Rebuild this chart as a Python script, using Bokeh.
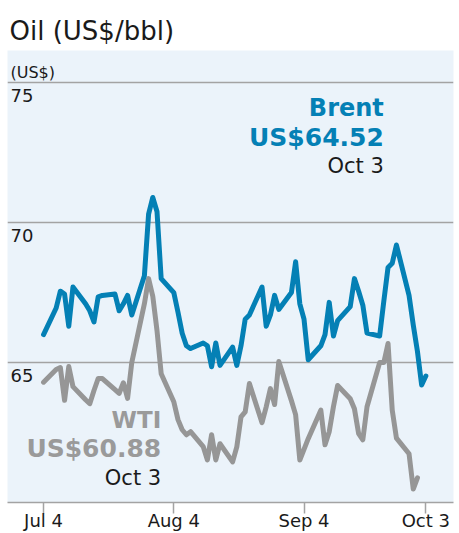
from datetime import datetime
import pandas as pd
from bokeh.plotting import figure
from bokeh.models import ColumnDataSource, FixedTicker, Range1d
from bokeh.core.properties import value
from bokeh.embed import file_html
from bokeh.resources import INLINE

FONT = "DejaVu Sans"

# ---------------- data ----------------
trade_days = [
    "2025-07-04",
    "2025-07-07", "2025-07-08", "2025-07-09", "2025-07-10", "2025-07-11",
    "2025-07-14", "2025-07-15", "2025-07-16", "2025-07-17", "2025-07-18",
    "2025-07-21", "2025-07-22", "2025-07-23", "2025-07-24", "2025-07-25",
    "2025-07-28", "2025-07-29", "2025-07-30", "2025-07-31", "2025-08-01",
    "2025-08-04", "2025-08-05", "2025-08-06", "2025-08-07", "2025-08-08",
    "2025-08-11", "2025-08-12", "2025-08-13", "2025-08-14", "2025-08-15",
    "2025-08-18", "2025-08-19", "2025-08-20", "2025-08-21", "2025-08-22",
    "2025-08-25", "2025-08-26", "2025-08-27", "2025-08-28", "2025-08-29",
    "2025-09-01", "2025-09-02", "2025-09-03", "2025-09-04", "2025-09-05",
    "2025-09-08", "2025-09-09", "2025-09-10", "2025-09-11", "2025-09-12",
    "2025-09-15", "2025-09-16", "2025-09-17", "2025-09-18", "2025-09-19",
    "2025-09-22", "2025-09-23", "2025-09-24", "2025-09-25", "2025-09-26",
    "2025-09-29", "2025-09-30", "2025-10-01", "2025-10-02", "2025-10-03",
]

brent = [
    66.0,
    66.95, 67.55, 67.45, 66.3, 67.7,
    67.1, 66.85, 66.45, 67.35, 67.4,
    67.45, 66.85, 67.1, 67.4, 66.7,
    68.1, 70.3, 70.9, 70.4, 68.0,
    67.5, 66.8, 66.05, 65.6, 65.5,
    65.7, 65.6, 64.85, 65.7, 64.9,
    65.55, 64.9, 65.6, 66.55, 66.7,
    67.7, 66.3, 66.7, 67.4, 66.9,
    67.5, 68.6, 67.1, 66.55, 65.1,
    65.6, 66.0, 67.15, 65.95, 66.5,
    67.0, 68.0, 67.55, 67.05, 66.05,
    65.95, 67.2, 68.4, 68.55, 69.2,
    67.4, 66.35, 65.4, 64.2, 64.52,
]

wti = [
    64.3,
    64.75, 64.82, 63.65, 64.86, 64.14,
    63.67, 63.53, 64.0, 64.43, 64.43,
    64.03, 63.9, 64.28, 63.72, 65.0,
    67.1, 68.0, 67.37, 66.15, 64.6,
    63.6, 62.96, 62.6, 62.42, 62.53,
    62.0, 61.52, 62.42, 61.52, 62.1,
    61.45, 61.99, 63.06, 63.24, 64.25,
    62.85, 63.42, 64.07, 63.5, 65.04,
    63.64, 63.14, 61.52, 61.9, 62.28,
    63.3, 62.06, 62.53, 63.42, 64.18,
    63.71, 63.35, 62.46, 62.24, 63.42,
    65.0, 65.0, 65.68, 63.3, 62.3,
    61.74, 60.48, 60.88,
]
wti_days = trade_days[:len(wti)]

y_ticks = [65, 70, 75]
y_tick_labels = ["65", "70", "75"]
x_tick_dates = ["2025-07-04", "2025-08-04", "2025-09-04", "2025-10-03"]
x_tick_labels = ["Jul 4", "Aug 4", "Sep 4", "Oct 3"]

title_text = "Oil (US$/bbl)"
unit_text = "(US$)"
brent_lines = ["Brent", "US$64.52", "Oct 3"]
wti_lines = ["WTI", "US$60.88", "Oct 3"]

# ---------------- style ----------------
BLUE = "#0480b5"
GREY = "#969696"
GREY_TXT = "#9a9a9a"
GRID = "#a3a3a3"
BG = "#ebf3fa"
INK = "#1a1a1a"

brent_src = ColumnDataSource(dict(date=pd.to_datetime(trade_days), v=brent))
wti_src = ColumnDataSource(dict(date=pd.to_datetime(wti_days), v=wti))

x_start = datetime(2025, 6, 25, 10)
x_end = datetime(2025, 10, 9, 14)

p = figure(width=459, height=533, x_axis_type="datetime",
           x_range=Range1d(x_start, x_end), y_range=Range1d(60, 76.15),
           output_backend="svg", toolbar_location=None,
           min_border_left=7, min_border_right=6, min_border_top=50,
           min_border_bottom=20)
p.background_fill_color = BG
p.border_fill_color = "white"
p.outline_line_color = None

p.title.text = title_text
p.title.text_font = FONT
p.title.text_font_size = "26px"
p.title.text_font_style = "normal"
p.title.text_color = INK
p.title.offset = 2
p.title.standoff = 9

# grid
p.xgrid.visible = False
p.ygrid.ticker = FixedTicker(ticks=y_ticks)
p.ygrid.grid_line_color = GRID
p.ygrid.grid_line_width = 1.5
p.yaxis.visible = False

# x axis
tick_ms = [float(pd.Timestamp(d).timestamp() * 1000) for d in x_tick_dates]
p.xaxis.ticker = FixedTicker(ticks=tick_ms)
p.xaxis.major_label_overrides = {t: lab for t, lab in zip(tick_ms, x_tick_labels)}
p.xaxis.axis_line_color = GRID
p.xaxis.axis_line_width = 1.5
p.xaxis.major_tick_line_color = GRID
p.xaxis.major_tick_line_width = 1.5
p.xaxis.major_tick_out = 11
p.xaxis.major_tick_in = 0
p.xaxis.minor_tick_line_color = None
p.xaxis.major_label_standoff = -4
p.xaxis.major_label_text_font = FONT
p.xaxis.major_label_text_font_size = "18px"
p.xaxis.major_label_text_color = INK

# lines
p.line("date", "v", source=wti_src, line_color=GREY, line_width=5,
       line_join="round", line_cap="round")
p.line("date", "v", source=brent_src, line_color=BLUE, line_width=5,
       line_join="round", line_cap="round")

# y tick labels inside the frame
p.text(x=[x_start] * len(y_ticks), y=y_ticks, text=y_tick_labels,
       x_offset=3, y_offset=13, text_align="left", text_baseline="alphabetic",
       text_font=value(FONT), text_font_size="18px", text_color=INK)
p.text(x=[x_start], y=[y_ticks[-1]], text=[unit_text],
       x_offset=3, y_offset=-10, text_align="left", text_baseline="alphabetic",
       text_font=value(FONT), text_font_size="16px", text_color=INK)

# series annotations
def block(anchor_date, anchor_y, lines, color, offsets, sizes):
    styles = ["bold", "bold", "normal"]
    colors = [color, color, INK]
    for line, off, size, style, col in zip(lines, offsets, sizes, styles, colors):
        p.text(x=[pd.Timestamp(anchor_date)], y=[anchor_y], text=[line],
               y_offset=off, text_align="right", text_baseline="alphabetic",
               text_font=value(FONT), text_font_size=size,
               text_font_style=style, text_color=col)

block("2025-09-23", 73.82, brent_lines, BLUE, [-8, 22, 50], ["24px", "25px", "21px"])
block("2025-08-01", 62.74, wti_lines, GREY_TXT, [-6, 23, 52], ["23px", "25px", "21px"])

open("out.html", "w").write(file_html(p, INLINE))
